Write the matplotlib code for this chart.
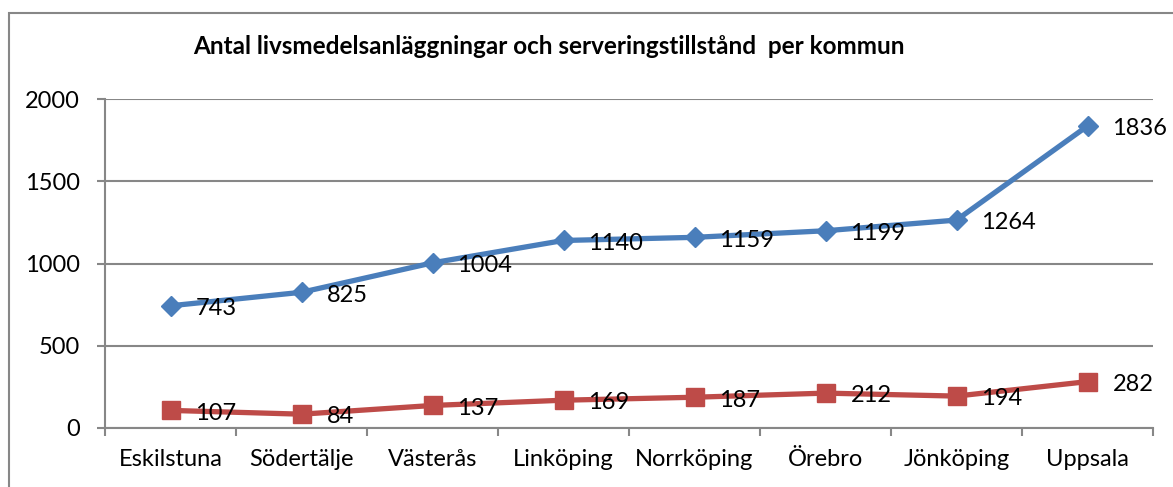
import matplotlib
matplotlib.use("Agg")
import matplotlib.pyplot as plt
from matplotlib.patches import Rectangle
from matplotlib.ticker import FixedLocator, NullFormatter

plt.rcParams['font.family'] = ['Lato', 'DejaVu Sans']

kommuner = ["Eskilstuna", "Södertälje", "Västerås", "Linköping", "Norrköping",
            "Örebro", "Jönköping", "Uppsala"]
livsmedel = [743, 825, 1004, 1140, 1159, 1199, 1264, 1836]
servering = [107, 84, 137, 169, 187, 212, 194, 282]
yticks = [0, 500, 1000, 1500, 2000]
title = "Antal livsmedelsanläggningar och serveringstillstånd  per kommun"

W, H = 1173, 487
fig = plt.figure(figsize=(W / 100, H / 100), dpi=100)

# outer frame (extends past image edge on right/bottom)
fig.patches.append(Rectangle((9 / W, -0.1), 1.2, 1 - 13 / H + 0.1,
                             transform=fig.transFigure, fill=False,
                             edgecolor="#878787", linewidth=1.5))

ax = fig.add_axes([105 / W, 1 - 428 / H, (1153 - 105) / W, (428 - 99) / H])
x = list(range(len(kommuner)))

grid_c = "#878787"
ax.plot(x, livsmedel, color="#4A7EBB", linewidth=3.8, marker="D",
        markersize=10, markeredgecolor="#4A7EBB", zorder=3)
ax.plot(x, servering, color="#BE4B48", linewidth=3.8, marker="s",
        markersize=12.5, markeredgecolor="#BE4B48", zorder=3)

for xi, v in zip(x, livsmedel):
    ax.annotate(str(v), (xi, v), xytext=(18, -2), textcoords="offset points",
                ha="left", va="center", fontsize=17, color="black", zorder=4)
for xi, v in zip(x, servering):
    ax.annotate(str(v), (xi, v), xytext=(18, -2), textcoords="offset points",
                ha="left", va="center", fontsize=17, color="black", zorder=4)

ax.set_xlim(-0.5, len(kommuner) - 0.5)
ax.set_ylim(0, 2000)
ax.set_yticks(yticks)
ax.set_yticklabels([str(t) for t in yticks], fontsize=17)
ax.set_xticks(x)
ax.set_xticklabels(kommuner, fontsize=17)
ax.xaxis.set_minor_locator(FixedLocator([i - 0.5 for i in range(len(kommuner) + 1)]))
ax.xaxis.set_minor_formatter(NullFormatter())
ax.tick_params(axis="x", which="major", length=0, pad=15)
ax.tick_params(axis="x", which="minor", length=6, width=1.5, color=grid_c)
ax.tick_params(axis="y", length=6, width=1.5, color=grid_c, pad=12)

ax.grid(axis="y", color=grid_c, linewidth=1.5, zorder=1)
ax.set_axisbelow(True)
for s in ["top", "right"]:
    ax.spines[s].set_visible(False)
for s in ["left", "bottom"]:
    ax.spines[s].set_color(grid_c)
    ax.spines[s].set_linewidth(1.5)

fig.text(549 / W, 1 - 47 / H, title, ha="center", va="center",
         fontsize=17.5, fontweight="bold")

fig.savefig("out.png", dpi=100, facecolor="white")
